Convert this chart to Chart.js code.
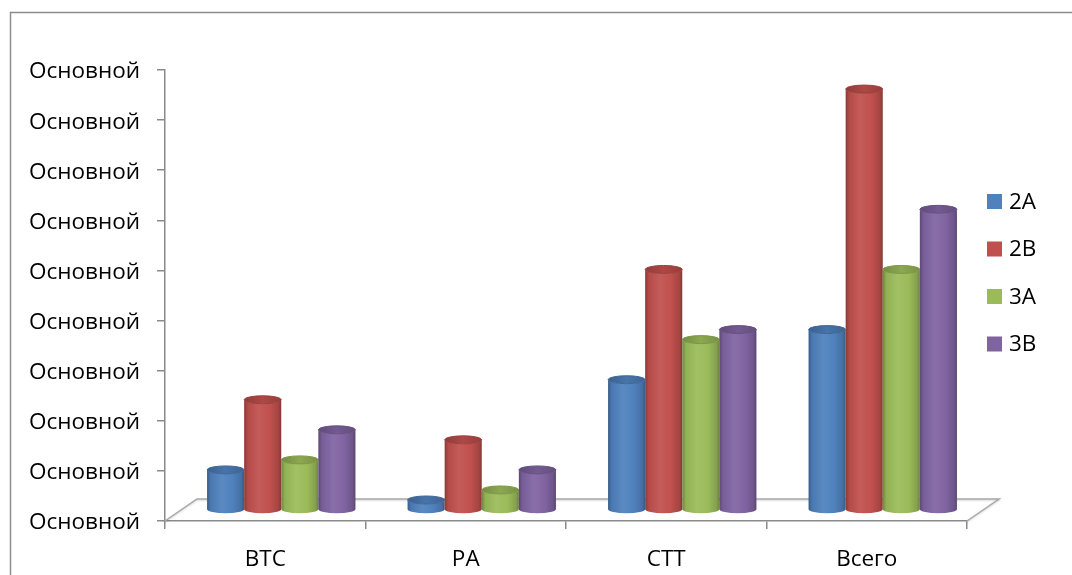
<!DOCTYPE html>
<html>
<head>
<meta charset="utf-8">
<script src="https://cdn.jsdelivr.net/npm/chart.js@4.4.1/dist/chart.umd.min.js"></script>
<style>
  html, body { margin: 0; padding: 0; background: #ffffff; }
  canvas { display: block; }
</style>
</head>
<body>
<canvas id="chart" width="1072" height="575"></canvas>
<script>
// Categories and series
const categories = ['ВТС', 'РА', 'СТТ', 'Всего'];
const seriesNames = ['2А', '2В', '3А', '3В'];
const values2A = [4, 1, 13, 18];
const values2B = [11, 7, 24, 42];
const values3A = [5, 2, 17, 24];
const values3B = [8, 4, 18, 30];
// Value-axis labels (the axis uses the "Основной" number format)
const yTickLabels = ['Основной', 'Основной', 'Основной', 'Основной', 'Основной',
                     'Основной', 'Основной', 'Основной', 'Основной', 'Основной'];

const seriesColors = ['#4F81BD', '#C0504D', '#9BBB59', '#8064A2'];
const FONT = '"Open Sans", "Noto Sans", "DejaVu Sans", sans-serif';
const AXIS_COLOR = '#8a8a8a';
const FLOOR_DX = 32, FLOOR_DY = -22;   // depth of the 3-D floor

function shade(hex, f) {
  const n = parseInt(hex.slice(1), 16);
  let r = (n >> 16) & 255, g = (n >> 8) & 255, b = n & 255;
  const t = f < 0 ? 0 : 255, p = Math.abs(f);
  r = Math.round(r + (t - r) * p); g = Math.round(g + (t - g) * p); b = Math.round(b + (t - b) * p);
  return `rgb(${r},${g},${b})`;
}

function drawFloor(chart) {
  const { ctx, chartArea: a } = chart;
  ctx.save();
  ctx.strokeStyle = '#a8a8a8';
  ctx.lineWidth = 1.5;
  ctx.shadowColor = 'rgba(0,0,0,0.18)';
  ctx.shadowBlur = 2;
  ctx.shadowOffsetY = 1;
  ctx.beginPath();
  ctx.moveTo(a.left, a.bottom);
  ctx.lineTo(a.left + FLOOR_DX, a.bottom + FLOOR_DY);
  ctx.lineTo(a.right + FLOOR_DX, a.bottom + FLOOR_DY);
  ctx.lineTo(a.right, a.bottom);
  ctx.stroke();
  ctx.restore();
}

function drawCylinder(ctx, el, color) {
  const cx = el.x + FLOOR_DX / 2;
  const top = el.y + FLOOR_DY / 2;
  const base = el.base + FLOOR_DY / 2;
  const rx = el.width / 2, ry = 4;
  const left = cx - rx, right = cx + rx;

  const g = ctx.createLinearGradient(left, 0, right, 0);
  g.addColorStop(0, shade(color, -0.28));
  g.addColorStop(0.1, shade(color, -0.06));
  g.addColorStop(0.4, shade(color, 0.07));
  g.addColorStop(0.7, color);
  g.addColorStop(0.92, shade(color, -0.14));
  g.addColorStop(1, shade(color, -0.3));

  ctx.beginPath();
  ctx.moveTo(left, top);
  ctx.lineTo(left, base);
  ctx.ellipse(cx, base, rx, ry, 0, Math.PI, 0, true);
  ctx.lineTo(right, top);
  ctx.ellipse(cx, top, rx, ry, 0, 0, Math.PI, false);
  ctx.closePath();
  ctx.fillStyle = g;
  ctx.fill();

  const tg = ctx.createLinearGradient(left, 0, right, 0);
  tg.addColorStop(0, shade(color, -0.25));
  tg.addColorStop(0.5, shade(color, -0.1));
  tg.addColorStop(1, shade(color, -0.22));
  ctx.beginPath();
  ctx.ellipse(cx, top, rx, ry, 0, 0, Math.PI * 2);
  ctx.fillStyle = tg;
  ctx.fill();
  ctx.lineWidth = 1;
  ctx.strokeStyle = shade(color, -0.2);
  ctx.stroke();
}

const cylinderPlugin = {
  id: 'cylinders',
  beforeDatasetsDraw(chart) {
    drawFloor(chart);
    const ctx = chart.ctx;
    ctx.save();
    ctx.filter = 'blur(0.7px)';
    const n = chart.data.labels.length;
    for (let i = 0; i < n; i++) {
      chart.data.datasets.forEach((ds, d) => {
        const el = chart.getDatasetMeta(d).data[i];
        drawCylinder(ctx, el, ds.backgroundColor);
      });
    }
    ctx.restore();
    return false;
  }
};

const framePlugin = {
  id: 'frame',
  beforeDraw(chart) {
    const ctx = chart.ctx;
    ctx.save();
    ctx.fillStyle = '#ffffff';
    ctx.fillRect(0, 0, chart.width, chart.height);
    ctx.strokeStyle = '#8c8c8c';
    ctx.lineWidth = 1.5;
    ctx.strokeRect(10.5, 12.5, 1200, 700);
    ctx.restore();
  },
  afterDraw(chart) {
    // legend on the right
    const ctx = chart.ctx;
    ctx.save();
    ctx.font = `22.5px ${FONT}`;
    ctx.textBaseline = 'middle';
    ctx.textAlign = 'left';
    chart.data.datasets.forEach((ds, i) => {
      const cy = 201.5 + i * 47.5;
      ctx.fillStyle = ds.backgroundColor;
      ctx.fillRect(987, cy - 7.5, 15, 15);
      ctx.fillStyle = '#000000';
      ctx.fillText(ds.label, 1009, cy + 1);
    });
    ctx.restore();
  }
};

const seriesValues = [values2A, values2B, values3A, values3B];

new Chart(document.getElementById('chart'), {
  type: 'bar',
  data: {
    labels: categories,
    datasets: seriesNames.map((name, i) => ({
      label: name,
      data: seriesValues[i],
      backgroundColor: seriesColors[i],
      barPercentage: 1.0,
      categoryPercentage: 0.74
    }))
  },
  options: {
    responsive: false,
    animation: false,
    devicePixelRatio: 1,
    layout: { padding: { left: 0, top: 70, right: 105, bottom: 0 } },
    plugins: {
      legend: { display: false },
      tooltip: { enabled: false }
    },
    scales: {
      x: {
        afterFit(scale) { scale.height = 54; },
        border: { display: true, color: AXIS_COLOR, width: 1.5 },
        grid: { drawOnChartArea: false, drawTicks: true, tickLength: 8, color: AXIS_COLOR, lineWidth: 1.5 },
        ticks: { color: '#000000', font: { family: FONT, size: 22.5 }, padding: 17 }
      },
      y: {
        min: 0,
        max: 45,
        afterFit(scale) { scale.width = 165; },
        border: { display: true, color: AXIS_COLOR, width: 1.5 },
        grid: { drawOnChartArea: false, drawTicks: true, tickLength: 8, color: AXIS_COLOR, lineWidth: 1.5 },
        ticks: {
          stepSize: 5,
          padding: 17,
          labelOffset: 2,
          color: '#000000',
          font: { family: FONT, size: 22.5 },
          callback: (value, index) => yTickLabels[index]
        }
      }
    }
  },
  plugins: [framePlugin, cylinderPlugin]
});
</script>
</body>
</html>
